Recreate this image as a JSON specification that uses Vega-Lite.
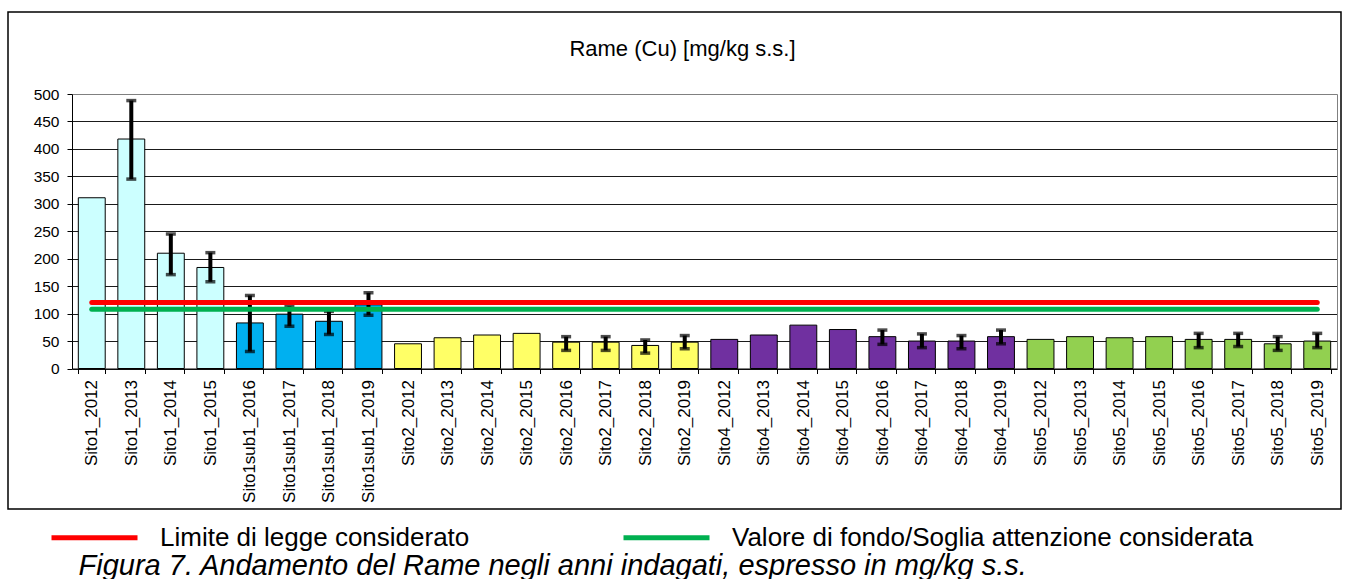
{
  "$schema": "https://vega.github.io/schema/vega-lite/v6.json",
  "width": 1333,
  "height": 497,
  "autosize": {"type": "none"},
  "padding": {"left": 8, "top": 12, "right": 6, "bottom": 70},
  "background": "white",
  "config": {
    "view": {"stroke": "#000", "strokeWidth": 1.5},
    "font": "Liberation Sans"
  },
  "title": {
    "text": "Rame (Cu) [mg/kg s.s.]",
    "anchor": "middle",
    "frame": "group",
    "offset": -66,
    "baseline": "alphabetic",
    "fontSize": 22,
    "fontWeight": "normal",
    "color": "#000",
    "dx": 8
  },
  "data": {
    "values": [
      {"cat": "Sito1_2012", "grp": "Sito1", "v": 311, "lo": null, "hi": null},
      {"cat": "Sito1_2013", "grp": "Sito1", "v": 418, "lo": 345, "hi": 488},
      {"cat": "Sito1_2014", "grp": "Sito1", "v": 210, "lo": 171, "hi": 245},
      {"cat": "Sito1_2015", "grp": "Sito1", "v": 184, "lo": 158, "hi": 211},
      {"cat": "Sito1sub1_2016", "grp": "Sito1sub1", "v": 83, "lo": 31, "hi": 133},
      {"cat": "Sito1sub1_2017", "grp": "Sito1sub1", "v": 99, "lo": 77, "hi": 113},
      {"cat": "Sito1sub1_2018", "grp": "Sito1sub1", "v": 86, "lo": 62, "hi": 104},
      {"cat": "Sito1sub1_2019", "grp": "Sito1sub1", "v": 116, "lo": 97, "hi": 138},
      {"cat": "Sito2_2012", "grp": "Sito2", "v": 45, "lo": null, "hi": null},
      {"cat": "Sito2_2013", "grp": "Sito2", "v": 56, "lo": null, "hi": null},
      {"cat": "Sito2_2014", "grp": "Sito2", "v": 61, "lo": null, "hi": null},
      {"cat": "Sito2_2015", "grp": "Sito2", "v": 64, "lo": null, "hi": null},
      {"cat": "Sito2_2016", "grp": "Sito2", "v": 48, "lo": 33, "hi": 58},
      {"cat": "Sito2_2017", "grp": "Sito2", "v": 48, "lo": 33, "hi": 58},
      {"cat": "Sito2_2018", "grp": "Sito2", "v": 42, "lo": 28, "hi": 52},
      {"cat": "Sito2_2019", "grp": "Sito2", "v": 48, "lo": 36, "hi": 60},
      {"cat": "Sito4_2012", "grp": "Sito4", "v": 53, "lo": null, "hi": null},
      {"cat": "Sito4_2013", "grp": "Sito4", "v": 61, "lo": null, "hi": null},
      {"cat": "Sito4_2014", "grp": "Sito4", "v": 79, "lo": null, "hi": null},
      {"cat": "Sito4_2015", "grp": "Sito4", "v": 71, "lo": null, "hi": null},
      {"cat": "Sito4_2016", "grp": "Sito4", "v": 58, "lo": 44, "hi": 70},
      {"cat": "Sito4_2017", "grp": "Sito4", "v": 50, "lo": 38, "hi": 63},
      {"cat": "Sito4_2018", "grp": "Sito4", "v": 50, "lo": 36, "hi": 60},
      {"cat": "Sito4_2019", "grp": "Sito4", "v": 58, "lo": 45, "hi": 70},
      {"cat": "Sito5_2012", "grp": "Sito5", "v": 53, "lo": null, "hi": null},
      {"cat": "Sito5_2013", "grp": "Sito5", "v": 58, "lo": null, "hi": null},
      {"cat": "Sito5_2014", "grp": "Sito5", "v": 56, "lo": null, "hi": null},
      {"cat": "Sito5_2015", "grp": "Sito5", "v": 58, "lo": null, "hi": null},
      {"cat": "Sito5_2016", "grp": "Sito5", "v": 53, "lo": 38, "hi": 64},
      {"cat": "Sito5_2017", "grp": "Sito5", "v": 53, "lo": 40, "hi": 64},
      {"cat": "Sito5_2018", "grp": "Sito5", "v": 45, "lo": 33, "hi": 58},
      {"cat": "Sito5_2019", "grp": "Sito5", "v": 50, "lo": 38, "hi": 64}
    ]
  },
  "layer": [
    {
      "layer": [
        {
          "mark": {"type": "bar", "stroke": "#000", "strokeWidth": 1},
          "encoding": {
            "x": {
              "field": "cat",
              "type": "nominal",
              "sort": null,
              "scale": {"range": [64, 1329], "paddingInner": 0.32, "paddingOuter": 0.16},
              "axis": {
                "title": "Figura 7. Andamento del Rame negli anni indagati, espresso in mg/kg s.s.",
                "titleX": 70,
                "titleY": 205.5,
                "titleAlign": "left",
                "titleBaseline": "alphabetic",
                "titleFontSize": 29,
                "titleFontStyle": "italic",
                "titleFontWeight": "normal",
                "titleColor": "#000",
                "offset": -140.5,
                "labelAngle": -90,
                "labelAlign": "right",
                "labelBaseline": "middle",
                "labelFontSize": 17,
                "labelColor": "#000",
                "labelPadding": 6,
                "labelOverlap": false,
                "labelLimit": 0,
                "tickBand": "extent",
                "tickColor": "#000",
                "tickSize": 5,
                "domainColor": "#000",
                "domainWidth": 1,
                "grid": false
              }
            },
            "y": {
              "field": "v",
              "type": "quantitative",
              "scale": {"domain": [0, 500], "range": [356.5, 82], "nice": false},
              "axis": {
                "title": null,
                "offset": -64,
                "values": [0, 50, 100, 150, 200, 250, 300, 350, 400, 450, 500],
                "labelFontSize": 15.5,
                "labelColor": "#000",
                "labelPadding": 8,
                "tickColor": "#000",
                "tickSize": 5,
                "domainColor": "#000",
                "domainWidth": 1,
                "grid": true,
                "gridColor": {"condition": {"test": "datum.value === 500", "value": "#808080"}, "value": "#1a1a1a"},
                "gridWidth": 1
              }
            },
            "fill": {
              "field": "grp",
              "type": "nominal",
              "scale": {
                "domain": ["Sito1", "Sito1sub1", "Sito2", "Sito4", "Sito5"],
                "range": ["#CCFFFF", "#00B0F0", "#FFFF66", "#7030A0", "#92D050"]
              },
              "legend": null
            }
          }
        },
        {
          "transform": [{"filter": "isValid(datum.lo)"}],
          "mark": {
            "type": "errorbar",
            "color": "#000",
            "ticks": {"size": 10, "thickness": 3.5, "color": "#000"},
            "rule": {"strokeWidth": 4, "color": "#000"}
          },
          "encoding": {
            "x": {"field": "cat", "type": "nominal", "sort": null},
            "y": {"field": "lo", "type": "quantitative"},
            "y2": {"field": "hi"}
          }
        }
      ]
    },
    {
      "data": {
        "values": [
          {"name": "Limite di legge considerato", "val": 120, "a": "Sito1_2012", "b": "Sito5_2019"},
          {"name": "Valore di fondo/Soglia attenzione considerata", "val": 108, "a": "Sito1_2012", "b": "Sito5_2019"}
        ]
      },
      "mark": {"type": "rule", "strokeWidth": 5, "strokeCap": "round"},
      "encoding": {
        "x": {"field": "a", "type": "nominal", "sort": null},
        "x2": {"field": "b"},
        "y": {
          "field": "val",
          "type": "quantitative",
          "scale": {"domain": [0, 500], "range": [356.5, 82], "nice": false},
          "axis": {
            "orient": "right",
            "offset": -4,
            "labels": false,
            "ticks": false,
            "grid": false,
            "title": null,
            "domainColor": "#808080",
            "domainWidth": 1
          }
        },
        "stroke": {
          "field": "name",
          "type": "nominal",
          "sort": null,
          "scale": {
            "domain": ["Limite di legge considerato", "Valore di fondo/Soglia attenzione considerata"],
            "range": ["#FF0000", "#00B050"]
          },
          "legend": {
            "orient": "none",
            "legendX": 41,
            "legendY": 480,
            "direction": "horizontal",
            "title": null,
            "padding": 0,
            "symbolType": "stroke",
            "symbolSize": 7396,
            "symbolStrokeWidth": 5,
            "labelFontSize": 26,
            "labelColor": "#000",
            "labelOffset": 20,
            "labelLimit": 0,
            "columnPadding": 143
          }
        }
      }
    }
  ],
  "resolve": {"scale": {"y": "independent"}}
}
